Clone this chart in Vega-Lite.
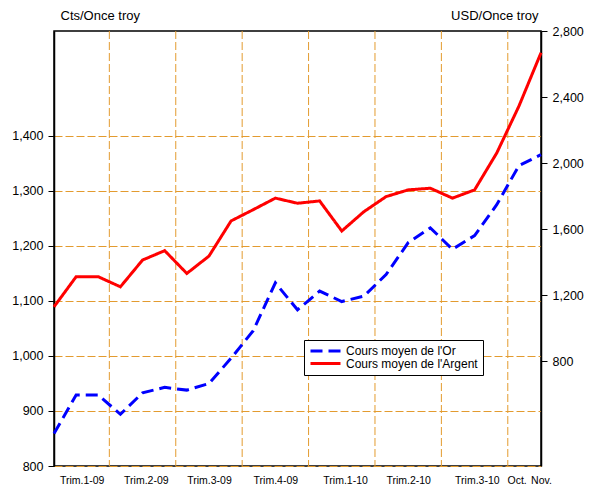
{
  "$schema": "https://vega.github.io/schema/vega-lite/v6.json",
  "width": 487,
  "height": 435,
  "autosize": {"type": "none"},
  "padding": {"left": 54, "top": 31, "right": 48, "bottom": 27},
  "background": "white",
  "config": {
    "font": "Liberation Sans",
    "view": {"stroke": "#000000", "strokeWidth": 1.5},
    "axis": {"labelFont": "Liberation Sans", "labelColor": "#000000", "titleFont": "Liberation Sans", "titleColor": "#000000", "titleFontWeight": "normal", "tickColor": "#000000", "domainColor": "#000000", "gridColor": "#E39B2F", "gridDash": [8, 3], "gridWidth": 1, "gridOpacity": 1},
    "axisX": {"grid": false},
    "legend": {"labelFont": "Liberation Sans", "labelColor": "#000000"}
  },
  "datasets": {
    "cours": [
      {"mois": 0, "serie": "Cours moyen de l'Or", "valeur": 859},
      {"mois": 1, "serie": "Cours moyen de l'Or", "valeur": 929},
      {"mois": 2, "serie": "Cours moyen de l'Or", "valeur": 929},
      {"mois": 3, "serie": "Cours moyen de l'Or", "valeur": 894},
      {"mois": 4, "serie": "Cours moyen de l'Or", "valeur": 933},
      {"mois": 5, "serie": "Cours moyen de l'Or", "valeur": 943},
      {"mois": 6, "serie": "Cours moyen de l'Or", "valeur": 938},
      {"mois": 7, "serie": "Cours moyen de l'Or", "valeur": 950},
      {"mois": 8, "serie": "Cours moyen de l'Or", "valeur": 996},
      {"mois": 9, "serie": "Cours moyen de l'Or", "valeur": 1046},
      {"mois": 10, "serie": "Cours moyen de l'Or", "valeur": 1133},
      {"mois": 11, "serie": "Cours moyen de l'Or", "valeur": 1084},
      {"mois": 12, "serie": "Cours moyen de l'Or", "valeur": 1118},
      {"mois": 13, "serie": "Cours moyen de l'Or", "valeur": 1099},
      {"mois": 14, "serie": "Cours moyen de l'Or", "valeur": 1109},
      {"mois": 15, "serie": "Cours moyen de l'Or", "valeur": 1148},
      {"mois": 16, "serie": "Cours moyen de l'Or", "valeur": 1206},
      {"mois": 17, "serie": "Cours moyen de l'Or", "valeur": 1233},
      {"mois": 18, "serie": "Cours moyen de l'Or", "valeur": 1194},
      {"mois": 19, "serie": "Cours moyen de l'Or", "valeur": 1219},
      {"mois": 20, "serie": "Cours moyen de l'Or", "valeur": 1275},
      {"mois": 21, "serie": "Cours moyen de l'Or", "valeur": 1346},
      {"mois": 22, "serie": "Cours moyen de l'Or", "valeur": 1366},
      {"mois": 0, "serie": "Cours moyen de l'Argent", "valeur": 1130},
      {"mois": 1, "serie": "Cours moyen de l'Argent", "valeur": 1312},
      {"mois": 2, "serie": "Cours moyen de l'Argent", "valeur": 1312},
      {"mois": 3, "serie": "Cours moyen de l'Argent", "valeur": 1251},
      {"mois": 4, "serie": "Cours moyen de l'Argent", "valeur": 1413},
      {"mois": 5, "serie": "Cours moyen de l'Argent", "valeur": 1470},
      {"mois": 6, "serie": "Cours moyen de l'Argent", "valeur": 1332},
      {"mois": 7, "serie": "Cours moyen de l'Argent", "valeur": 1437},
      {"mois": 8, "serie": "Cours moyen de l'Argent", "valeur": 1650},
      {"mois": 9, "serie": "Cours moyen de l'Argent", "valeur": 1718},
      {"mois": 10, "serie": "Cours moyen de l'Argent", "valeur": 1788},
      {"mois": 11, "serie": "Cours moyen de l'Argent", "valeur": 1757},
      {"mois": 12, "serie": "Cours moyen de l'Argent", "valeur": 1771},
      {"mois": 13, "serie": "Cours moyen de l'Argent", "valeur": 1589},
      {"mois": 14, "serie": "Cours moyen de l'Argent", "valeur": 1706},
      {"mois": 15, "serie": "Cours moyen de l'Argent", "valeur": 1797},
      {"mois": 16, "serie": "Cours moyen de l'Argent", "valeur": 1838},
      {"mois": 17, "serie": "Cours moyen de l'Argent", "valeur": 1848},
      {"mois": 18, "serie": "Cours moyen de l'Argent", "valeur": 1788},
      {"mois": 19, "serie": "Cours moyen de l'Argent", "valeur": 1838},
      {"mois": 20, "serie": "Cours moyen de l'Argent", "valeur": 2061},
      {"mois": 21, "serie": "Cours moyen de l'Argent", "valeur": 2344},
      {"mois": 22, "serie": "Cours moyen de l'Argent", "valeur": 2668}
    ],
    "grille": [
      {"mois": 2.5}, {"mois": 5.5}, {"mois": 8.5}, {"mois": 11.5}, {"mois": 14.5}, {"mois": 17.5}, {"mois": 20.5}
    ]
  },
  "layer": [
    {
      "data": {"name": "grille"},
      "mark": {"type": "rule", "color": "#E39B2F", "strokeWidth": 1, "strokeDash": [8, 3]},
      "encoding": {
        "x": {"field": "mois", "type": "quantitative", "scale": {"domain": [0, 22], "nice": false, "zero": false},
          "axis": {"title": null, "grid": false, "ticks": false, "domain": false,
            "values": [1.25, 4.15, 7, 10, 13.15, 16, 19.1, 20.9, 22],
            "labelExpr": "datum.value == 1.25 ? 'Trim.1-09' : datum.value == 4.15 ? 'Trim.2-09' : datum.value == 7 ? 'Trim.3-09' : datum.value == 10 ? 'Trim.4-09' : datum.value == 13.15 ? 'Trim.1-10' : datum.value == 16 ? 'Trim.2-10' : datum.value == 19.1 ? 'Trim.3-10' : datum.value == 20.9 ? 'Oct.' : 'Nov.'",
            "labelFontSize": 10.5, "labelPadding": 9, "labelOverlap": false, "labelFlush": false, "labelBound": false}}
      }
    },
    {
      "data": {"name": "cours"},
      "transform": [{"filter": {"field": "serie", "equal": "Cours moyen de l'Or"}}],
      "mark": {"type": "line", "strokeWidth": 3},
      "encoding": {
        "x": {"field": "mois", "type": "quantitative"},
        "y": {"field": "valeur", "type": "quantitative", "scale": {"domain": [800, 1590.9], "nice": false, "zero": false},
          "axis": {"title": "Cts/Once troy", "titleAngle": 0, "titleAlign": "left", "titleBaseline": "middle", "titleX": 6, "titleY": -16, "titleFontSize": 13,
            "values": [800, 900, 1000, 1100, 1200, 1300, 1400], "format": ",.0f", "labelFontSize": 12.5, "tickSize": 6, "labelPadding": 5,
            "grid": true, "domainWidth": 1.5}},
        "color": {"field": "serie", "type": "nominal", "scale": {"domain": ["Cours moyen de l'Or", "Cours moyen de l'Argent"], "range": ["#0000FF", "#FF0000"]},
          "legend": {"title": null, "orient": "none", "legendX": 250, "legendY": 309, "symbolType": "stroke", "symbolSize": 900, "symbolStrokeWidth": 3,
            "labelFontSize": 12, "labelOffset": 4, "padding": 5, "rowPadding": 0.5, "clipHeight": 12, "fillColor": "white", "strokeColor": "#000000"}},
        "strokeDash": {"field": "serie", "type": "nominal", "scale": {"domain": ["Cours moyen de l'Or", "Cours moyen de l'Argent"], "range": [[12, 6], [1, 0]]},
          "legend": {"title": null, "orient": "none", "legendX": 250, "legendY": 309, "symbolType": "stroke", "symbolSize": 900, "symbolStrokeWidth": 3,
            "labelFontSize": 12, "labelOffset": 4, "padding": 5, "rowPadding": 0.5, "clipHeight": 12, "fillColor": "white", "strokeColor": "#000000"}}
      }
    },
    {
      "data": {"name": "cours"},
      "transform": [{"filter": {"field": "serie", "equal": "Cours moyen de l'Argent"}}],
      "mark": {"type": "line", "strokeWidth": 3},
      "encoding": {
        "x": {"field": "mois", "type": "quantitative"},
        "y": {"field": "valeur", "type": "quantitative", "scale": {"domain": [166, 2800], "nice": false, "zero": false},
          "axis": {"orient": "right", "title": "USD/Once troy", "titleAngle": 0, "titleAlign": "right", "titleBaseline": "middle", "titleX": -3, "titleY": -16, "titleFontSize": 13,
            "values": [800, 1200, 1600, 2000, 2400, 2800], "format": ",.0f", "labelFontSize": 12.5, "tickSize": 6, "labelPadding": 5, "grid": false, "domainWidth": 1.5}},
        "color": {"field": "serie", "type": "nominal"},
        "strokeDash": {"field": "serie", "type": "nominal"}
      }
    }
  ],
  "resolve": {"scale": {"y": "independent"}}
}
